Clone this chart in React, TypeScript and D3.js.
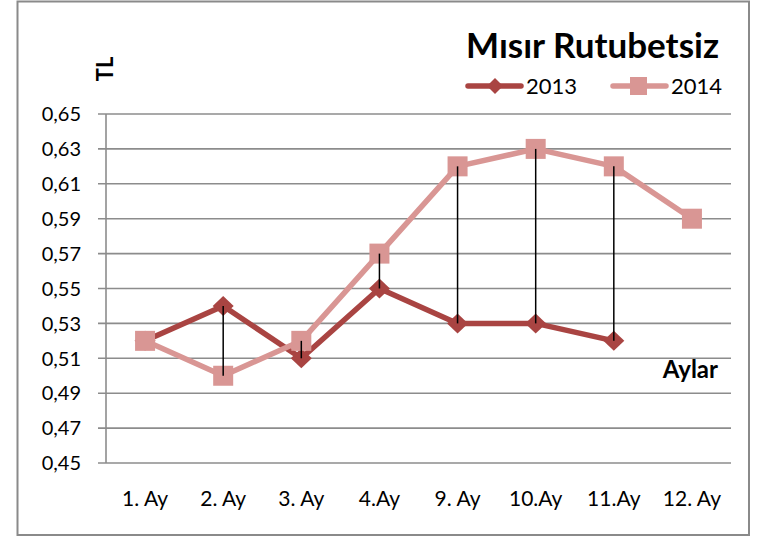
import React from "react";
import * as d3 from "d3";

const categories = ["1. Ay", "2. Ay", "3. Ay", "4.Ay", "9. Ay", "10.Ay", "11.Ay", "12. Ay"];
const values2013: (number | null)[] = [0.52, 0.54, 0.51, 0.55, 0.53, 0.53, 0.52, null];
const values2014: (number | null)[] = [0.52, 0.50, 0.52, 0.57, 0.62, 0.63, 0.62, 0.59];
const yTicks = [0.45, 0.47, 0.49, 0.51, 0.53, 0.55, 0.57, 0.59, 0.61, 0.63, 0.65];
const seriesNames = ["2013", "2014"];
const title = "Mısır Rutubetsiz";

const W = 766, H = 538;
const plot = { left: 106, right: 731, top: 114, bottom: 463 };
const c2013 = "#A94442";
const c2014 = "#D99694";
const font = "Lato, 'Open Sans', sans-serif";

export default function App() {
  const x = d3.scaleBand<string>().domain(categories).range([plot.left, plot.right]).padding(0);
  const y = d3.scaleLinear().domain([0.45, 0.65]).range([plot.bottom, plot.top]);
  const cx = (c: string) => (x(c) as number) + x.bandwidth() / 2;
  const fmt = (v: number) => v.toFixed(2).replace(".", ",");

  const line = d3
    .line<[string, number | null]>()
    .defined((d) => d[1] !== null)
    .x((d) => cx(d[0]))
    .y((d) => y(d[1] as number));

  const d13 = categories.map((c, i) => [c, values2013[i]] as [string, number | null]);
  const d14 = categories.map((c, i) => [c, values2014[i]] as [string, number | null]);

  const diamond = (px: number, py: number, rx: number, ry: number) =>
    `M${px},${py - ry}L${px + rx},${py}L${px},${py + ry}L${px - rx},${py}Z`;
  const sq = 10;

  return (
    <svg width={W} height={H} style={{ position: "absolute", left: 0, top: 0 }} fontFamily={font}>
      <rect x={0} y={0} width={W} height={H} fill="white" />
      <rect x={17.5} y={1.5} width={731.5} height={533.5} fill="white" stroke="#8a8a8a" strokeWidth={2} />
      {/* gridlines */}
      {yTicks.map((t) => (
        <g key={t}>
          <line x1={98} x2={plot.right} y1={y(t)} y2={y(t)} stroke="#8c8c8c" strokeWidth={1.6} />
          <text x={81} y={y(t)} dy="0.36em" textAnchor="end" fontSize={20} fill="#000">
            {fmt(t)}
          </text>
        </g>
      ))}
      <line x1={plot.left} x2={plot.left} y1={plot.top} y2={plot.bottom} stroke="#8c8c8c" strokeWidth={1.6} />
      {categories.map((c) => (
        <text key={c} x={cx(c)} y={506} textAnchor="middle" fontSize={21} fill="#000">
          {c}
        </text>
      ))}
      {/* series 2013 */}
      <path d={line(d13) || ""} fill="none" stroke={c2013} strokeWidth={5.5} strokeLinejoin="round" />
      {d13.filter((d) => d[1] !== null).map((d) => (
        <path key={d[0]} d={diamond(cx(d[0]), y(d[1] as number), 10.5, 10)} fill={c2013} />
      ))}
      {/* series 2014 */}
      <path d={line(d14) || ""} fill="none" stroke={c2014} strokeWidth={5.5} strokeLinejoin="round" />
      {d14.filter((d) => d[1] !== null).map((d) => (
        <rect key={d[0]} x={cx(d[0]) - sq} y={y(d[1] as number) - sq} width={sq * 2} height={sq * 2} fill={c2014} />
      ))}
      {/* high-low lines */}
      {categories.map((c, i) => {
        const a = values2013[i], b = values2014[i];
        if (a === null || b === null || a === b) return null;
        return <line key={c} x1={cx(c)} x2={cx(c)} y1={y(a)} y2={y(b)} stroke="#000" strokeWidth={1.5} />;
      })}
      {/* title */}
      <text x={719} y={58} textAnchor="end" fontSize={35} fontWeight="bold" fill="#000">
        {title}
      </text>
      {/* axis titles */}
      <text transform="translate(113,69) rotate(-90)" textAnchor="middle" fontSize={22} fontWeight="bold" fill="#000">
        TL
      </text>
      <text x={718} y={378} textAnchor="end" fontSize={24} fontWeight="bold" fill="#000">
        Aylar
      </text>
      {/* legend */}
      <line x1={468} x2={521} y1={86} y2={86} stroke={c2013} strokeWidth={5.5} strokeLinecap="round" />
      <path d={diamond(495, 86, 8, 8)} fill={c2013} />
      <text x={526} y={86} dy="0.36em" fontSize={22} fill="#000">{seriesNames[0]}</text>
      <line x1={613} x2={666} y1={86} y2={86} stroke={c2014} strokeWidth={5.5} strokeLinecap="round" />
      <rect x={630} y={77} width={17} height={18} fill={c2014} />
      <text x={671} y={86} dy="0.36em" fontSize={22} fill="#000">{seriesNames[1]}</text>
    </svg>
  );
}
